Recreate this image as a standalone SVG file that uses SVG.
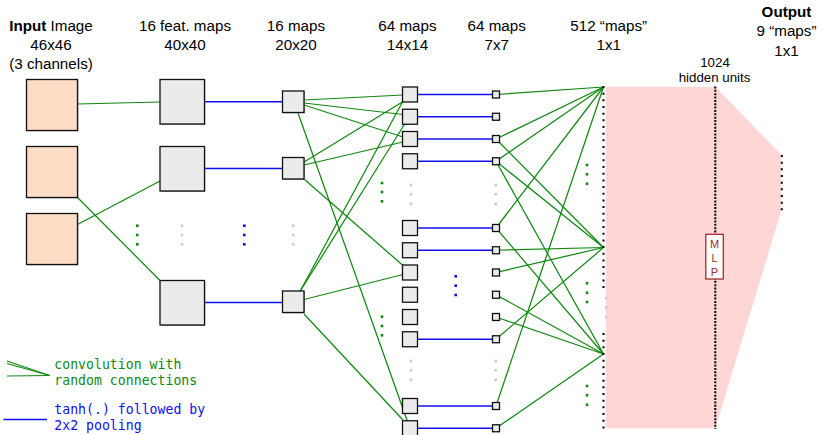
<svg xmlns="http://www.w3.org/2000/svg" width="824" height="435" viewBox="0 0 824 435">
<defs>
<style>
.lbl{font-family:"Liberation Sans",Arial,sans-serif;font-size:15.2px;fill:#000;text-anchor:middle}
.sm{font-family:"Liberation Sans",Arial,sans-serif;font-size:13.3px;fill:#000;text-anchor:middle}
.g{stroke:#118811;stroke-width:1.25;fill:none}
.b{stroke:#1010ee;stroke-width:1.3;fill:none}
.inp{fill:#fedcc6;stroke:#111;stroke-width:1.3}
.box{fill:#ebebeb;stroke:#111;stroke-width:1.3}
.sh{fill:#9a9a9a}
.dg{fill:#118811}
.dz{fill:#cccccc}
.db{fill:#1010ee}
.mono{font-family:"DejaVu Sans Mono",monospace;font-size:13.2px}
.col{stroke:#000;stroke-width:2;fill:none}
</style>
</defs>
<rect width="824" height="435" fill="#fff"/>

<!-- labels -->
<g id="labels">
<text class="lbl" x="51" y="30.5"><tspan font-weight="bold">Input</tspan> Image</text>
<text class="lbl" x="51" y="49.5">46x46</text>
<text class="lbl" x="51" y="68.5">(3 channels)</text>
<text class="lbl" x="185" y="30.5">16 feat. maps</text>
<text class="lbl" x="185" y="49.5">40x40</text>
<text class="lbl" x="296" y="30.5">16 maps</text>
<text class="lbl" x="296" y="49.5">20x20</text>
<text class="lbl" x="407.5" y="30.5">64 maps</text>
<text class="lbl" x="407.5" y="49.5">14x14</text>
<text class="lbl" x="496.7" y="30.5">64 maps</text>
<text class="lbl" x="496.7" y="49.5">7x7</text>
<text class="lbl" x="608.7" y="30.5">512 “maps”</text>
<text class="lbl" x="608.7" y="49.5">1x1</text>
<text class="lbl" x="786.5" y="17" font-weight="bold">Output</text>
<text class="lbl" x="786.5" y="36">9 “maps”</text>
<text class="lbl" x="786.5" y="55.5">1x1</text>
<text class="sm" x="715" y="66.5">1024</text>
<text class="sm" x="714.5" y="82">hidden units</text>
</g>

<!-- MLP region -->
<g id="mlp-region">
<rect x="605.7" y="86.7" width="109.6" height="341.6" fill="#ffd6d6"/>
<polygon points="715.3,86.7 781.5,155 781.5,210 715.3,428.3" fill="#ffd6d6"/>
</g>

<!-- connectors -->
<g id="connectors">
<line class="g" x1="77.5" y1="104" x2="160" y2="102"/>
<line class="g" x1="77.5" y1="197.5" x2="160" y2="280.5"/>
<line class="g" x1="77.5" y1="224.5" x2="160" y2="181"/>

<line class="b" x1="204" y1="101.75" x2="283" y2="101.75"/>
<line class="b" x1="204" y1="168.5" x2="283" y2="168.5"/>
<line class="b" x1="204" y1="302.5" x2="283" y2="302.5"/>

<line class="g" x1="304" y1="100" x2="403" y2="95"/>
<line class="g" x1="304" y1="103" x2="403" y2="114.5"/>
<line class="g" x1="304" y1="105" x2="403" y2="137"/>
<line class="g" x1="298" y1="113" x2="407.5" y2="421.5"/>
<line class="g" x1="304" y1="162" x2="404" y2="101"/>
<line class="g" x1="304" y1="165" x2="403" y2="142"/>
<line class="g" x1="304" y1="179" x2="403" y2="265.5"/>
<line class="g" x1="300" y1="291.5" x2="403" y2="101"/>
<line class="g" x1="300" y1="291.5" x2="405" y2="123.5"/>
<line class="g" x1="304" y1="299.5" x2="403" y2="274.5"/>
<line class="g" x1="304" y1="314" x2="403" y2="420"/>

<line class="b" x1="418" y1="94.5" x2="493" y2="94.5"/>
<line class="b" x1="418" y1="116.75" x2="493" y2="116.75"/>
<line class="b" x1="418" y1="139" x2="493" y2="139"/>
<line class="b" x1="418" y1="161.25" x2="493" y2="161.25"/>
<line class="b" x1="418" y1="228" x2="493" y2="228"/>
<line class="b" x1="418" y1="250.25" x2="493" y2="250.25"/>
<line class="b" x1="418" y1="339.25" x2="493" y2="339.25"/>
<line class="b" x1="418" y1="406" x2="493" y2="406"/>
<line class="b" x1="418" y1="428.25" x2="493" y2="428.25"/>

<!-- to hub A -->
<line class="g" x1="496" y1="94.5" x2="603.5" y2="87"/>
<line class="g" x1="496" y1="139" x2="603.5" y2="87"/>
<line class="g" x1="496" y1="161.25" x2="603.5" y2="87"/>
<line class="g" x1="496" y1="228" x2="603.5" y2="87"/>
<line class="g" x1="496" y1="406" x2="603.5" y2="87"/>
<!-- to hub B -->
<line class="g" x1="496" y1="139" x2="603.5" y2="247.5"/>
<line class="g" x1="496" y1="161.25" x2="603.5" y2="247.5"/>
<line class="g" x1="496" y1="250.25" x2="603.5" y2="247.5"/>
<line class="g" x1="496" y1="272.5" x2="603.5" y2="247.5"/>
<line class="g" x1="496" y1="339.25" x2="603.5" y2="247.5"/>
<!-- to hub C -->
<line class="g" x1="496" y1="161.25" x2="603.5" y2="354"/>
<line class="g" x1="496" y1="228" x2="603.5" y2="354"/>
<line class="g" x1="496" y1="294.75" x2="603.5" y2="354"/>
<line class="g" x1="496" y1="317" x2="603.5" y2="354"/>
<line class="g" x1="496" y1="428.25" x2="603.5" y2="354"/>
</g>

<!-- input images -->
<g id="input">
<rect class="sh" x="27.3" y="80.3" width="51" height="51"/>
<rect class="inp" x="26.5" y="79.5" width="51" height="51"/>
<rect class="sh" x="27.3" y="147.3" width="51" height="51"/>
<rect class="inp" x="26.5" y="146.5" width="51" height="51"/>
<rect class="sh" x="27.3" y="214.3" width="51" height="51"/>
<rect class="inp" x="26.5" y="213.5" width="51" height="51"/>
</g>

<g id="feat40">
<rect class="sh" x="160.8" y="80.3" width="44.5" height="44.5"/>
<rect class="box" x="160" y="79.5" width="44.5" height="44.5"/>
<rect class="sh" x="160.8" y="147.3" width="44.5" height="44.5"/>
<rect class="box" x="160" y="146.5" width="44.5" height="44.5"/>
<rect class="sh" x="160.8" y="281.3" width="44.5" height="44.5"/>
<rect class="box" x="160" y="280.5" width="44.5" height="44.5"/>
</g>

<g id="maps20">
<rect class="sh" x="283.3" y="91.8" width="21.5" height="21.5"/>
<rect class="box" x="282.5" y="91" width="21.5" height="21.5"/>
<rect class="sh" x="283.3" y="158.3" width="21.5" height="21.5"/>
<rect class="box" x="282.5" y="157.5" width="21.5" height="21.5"/>
<rect class="sh" x="283.3" y="291.8" width="21.5" height="21.5"/>
<rect class="box" x="282.5" y="291" width="21.5" height="21.5"/>
</g>

<g id="maps14">
<rect class="box" x="402.5" y="87" width="15" height="15"/>
<rect class="box" x="402.5" y="109.25" width="15" height="15"/>
<rect class="box" x="402.5" y="131.5" width="15" height="15"/>
<rect class="box" x="402.5" y="153.75" width="15" height="15"/>
<rect class="box" x="402.5" y="220.5" width="15" height="15"/>
<rect class="box" x="402.5" y="242.75" width="15" height="15"/>
<rect class="box" x="402.5" y="265" width="15" height="15"/>
<rect class="box" x="402.5" y="287.25" width="15" height="15"/>
<rect class="box" x="402.5" y="309.5" width="15" height="15"/>
<rect class="box" x="402.5" y="331.75" width="15" height="15"/>
<rect class="box" x="402.5" y="398.5" width="15" height="15"/>
<rect class="box" x="402.5" y="420.75" width="15" height="15"/>
</g>

<g id="maps7">
<rect class="box" x="492.5" y="91" width="7" height="7"/>
<rect class="box" x="492.5" y="113.25" width="7" height="7"/>
<rect class="box" x="492.5" y="135.5" width="7" height="7"/>
<rect class="box" x="492.5" y="157.75" width="7" height="7"/>
<rect class="box" x="492.5" y="224.5" width="7" height="7"/>
<rect class="box" x="492.5" y="246.75" width="7" height="7"/>
<rect class="box" x="492.5" y="269" width="7" height="7"/>
<rect class="box" x="492.5" y="291.25" width="7" height="7"/>
<rect class="box" x="492.5" y="313.5" width="7" height="7"/>
<rect class="box" x="492.5" y="335.75" width="7" height="7"/>
<rect class="box" x="492.5" y="402.5" width="7" height="7"/>
<rect class="box" x="492.5" y="424.75" width="7" height="7"/>
</g>

<g id="units512">
<line class="col" x1="603.5" y1="86" x2="603.5" y2="289" stroke-dasharray="2 4.67"/>
<line class="col" x1="603.5" y1="333" x2="603.5" y2="430" stroke-dasharray="2 4.67"/>
<rect class="dz" x="604.7" y="296.8" width="2.6" height="2.6"/>
<rect class="dz" x="604.7" y="306.2" width="2.6" height="2.6"/>
<rect class="dz" x="604.7" y="315.6" width="2.6" height="2.6"/>
</g>

<g id="hidden1024">
<line class="col" x1="715.3" y1="86.5" x2="715.3" y2="429" stroke-dasharray="2 1.35"/>
</g>

<g id="output9">
<line class="col" x1="781.8" y1="155" x2="781.8" y2="211" stroke-dasharray="2 4.67"/>
</g>

<g id="mlp">
<rect x="705.8" y="234.3" width="17.5" height="44.7" fill="#fff" stroke="#a52a2a" stroke-width="1.3"/>
<text x="714.5" y="248" font-family="Liberation Sans,Arial,sans-serif" font-size="11px" fill="#a52a2a" text-anchor="middle">M</text>
<text x="714.5" y="262" font-family="Liberation Sans,Arial,sans-serif" font-size="11px" fill="#a52a2a" text-anchor="middle">L</text>
<text x="714.5" y="276" font-family="Liberation Sans,Arial,sans-serif" font-size="11px" fill="#a52a2a" text-anchor="middle">P</text>
</g>

<g id="ellipses">
<rect class="dg" x="136" y="224.4" width="2.6" height="2.6"/>
<rect class="dg" x="136" y="233.7" width="2.6" height="2.6"/>
<rect class="dg" x="136" y="243" width="2.6" height="2.6"/>
<rect class="dz" x="180.7" y="224.4" width="2.6" height="2.6"/>
<rect class="dz" x="180.7" y="233.7" width="2.6" height="2.6"/>
<rect class="dz" x="180.7" y="243" width="2.6" height="2.6"/>
<rect class="db" x="243" y="224.4" width="2.6" height="2.6"/>
<rect class="db" x="243" y="233.7" width="2.6" height="2.6"/>
<rect class="db" x="243" y="243" width="2.6" height="2.6"/>
<rect class="dz" x="292" y="224.4" width="2.6" height="2.6"/>
<rect class="dz" x="292" y="233.7" width="2.6" height="2.6"/>
<rect class="dz" x="292" y="243" width="2.6" height="2.6"/>

<rect class="dg" x="380.7" y="181.7" width="2.6" height="2.6"/>
<rect class="dg" x="380.7" y="190.7" width="2.6" height="2.6"/>
<rect class="dg" x="380.7" y="200" width="2.6" height="2.6"/>
<rect class="dg" x="380.7" y="315.4" width="2.6" height="2.6"/>
<rect class="dg" x="380.7" y="324.7" width="2.6" height="2.6"/>
<rect class="dg" x="380.7" y="334" width="2.6" height="2.6"/>

<rect class="dz" x="409.7" y="183.7" width="2.6" height="2.6"/>
<rect class="dz" x="409.7" y="193" width="2.6" height="2.6"/>
<rect class="dz" x="409.7" y="202.4" width="2.6" height="2.6"/>
<rect class="dz" x="409.7" y="359.7" width="2.6" height="2.6"/>
<rect class="dz" x="409.7" y="369" width="2.6" height="2.6"/>
<rect class="dz" x="409.7" y="378.4" width="2.6" height="2.6"/>

<rect class="db" x="454.4" y="275" width="2.6" height="2.6"/>
<rect class="db" x="454.4" y="284.4" width="2.6" height="2.6"/>
<rect class="db" x="454.4" y="293.7" width="2.6" height="2.6"/>

<rect class="dz" x="494.4" y="183.7" width="2.6" height="2.6"/>
<rect class="dz" x="494.4" y="193" width="2.6" height="2.6"/>
<rect class="dz" x="494.4" y="202.4" width="2.6" height="2.6"/>
<rect class="dz" x="494.4" y="359.7" width="2.6" height="2.6"/>
<rect class="dz" x="494.4" y="369" width="2.6" height="2.6"/>
<rect class="dz" x="494.4" y="378.4" width="2.6" height="2.6"/>

<rect class="dg" x="585.7" y="163.7" width="2.6" height="2.6"/>
<rect class="dg" x="585.7" y="173" width="2.6" height="2.6"/>
<rect class="dg" x="585.7" y="182.4" width="2.6" height="2.6"/>
<rect class="dg" x="585.7" y="282" width="2.6" height="2.6"/>
<rect class="dg" x="585.7" y="291.4" width="2.6" height="2.6"/>
<rect class="dg" x="585.7" y="300.7" width="2.6" height="2.6"/>
<rect class="dg" x="585.7" y="384.7" width="2.6" height="2.6"/>
<rect class="dg" x="585.7" y="394" width="2.6" height="2.6"/>
<rect class="dg" x="585.7" y="403.4" width="2.6" height="2.6"/>
</g>

<g id="legend">
<line class="g" x1="7" y1="361" x2="49.5" y2="375.5"/>
<line class="g" x1="7" y1="363.5" x2="49.5" y2="375.5"/>
<line class="g" x1="7" y1="376" x2="49.5" y2="375.5"/>
<text class="mono" x="54.3" y="368.5" fill="#118811">convolution with</text>
<text class="mono" x="54.3" y="385" fill="#118811">random connections</text>
<line class="b" x1="3.5" y1="419.5" x2="47" y2="419.5" stroke="#4444ff"/>
<text class="mono" x="54.3" y="413.5" fill="#1010ee">tanh(.) followed by</text>
<text class="mono" x="54.3" y="430" fill="#1010ee">2x2 pooling</text>
</g>
</svg>
